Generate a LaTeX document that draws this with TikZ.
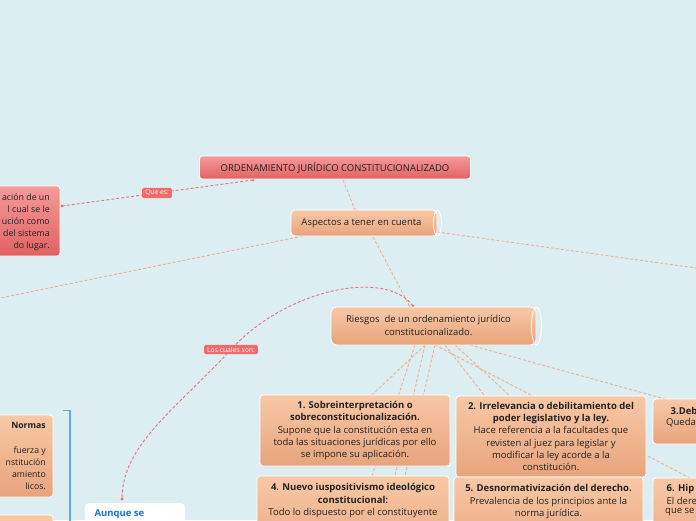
\documentclass[tikz,border=0pt]{standalone}
\usepackage{fontspec}
\setmainfont{Open Sans}
\definecolor{bg}{HTML}{DCEEF2}
\definecolor{redT}{HTML}{F59A9A}
\definecolor{redB}{HTML}{E06262}
\definecolor{orT}{HTML}{F9C8A6}
\definecolor{orB}{HTML}{E7A47C}
\definecolor{orLine}{HTML}{F2B090}
\definecolor{redLine}{HTML}{E87676}
\definecolor{lblRed}{HTML}{F26A6A}
\definecolor{blueBr}{HTML}{5AA9EE}
\definecolor{blueTx}{HTML}{1C6FD6}
\definecolor{txt}{HTML}{222222}
\tikzset{
  redbox/.style={rectangle, rounded corners=3pt, draw=white, line width=0.8pt, top color=redT, bottom color=redB, inner sep=0pt},
  orbox/.style={rectangle, rounded corners=3pt, draw=white, line width=0.8pt, top color=orT, bottom color=orB, inner sep=0pt},
  lbl/.style={rectangle, rounded corners=1.5pt, fill=lblRed, text=white, font=\fontsize{6.8}{7}\selectfont, inner xsep=3pt, inner ysep=2pt},
  oline/.style={draw=orLine, dash pattern=on 3pt off 2pt, line width=0.9pt},
  rline/.style={draw=redLine, dash pattern=on 3pt off 2pt, line width=0.9pt},
  btxt/.style={font=\fontsize{9.5}{12.3}\selectfont, text=txt, align=center},
  frag/.style={font=\fontsize{9.5}{12}\selectfont, text=txt, anchor=west, inner xsep=0pt, inner ysep=1pt},
}
\begin{document}
\begin{tikzpicture}[x=1pt,y=-1pt]
\useasboundingbox (0,0) rectangle (696,520);
\clip (0,0) rectangle (696,520);
\fill[bg] (0,0) rectangle (696,520);

\coordinate (tpos) at (335,167.5);
\coordinate (apos) at (364,223);
\coordinate (rpos) at (433.5,326);

% connectors (behind)
\coordinate (asL) at (303,236);
\coordinate (leftEnd) at (0,298);
\coordinate (asR) at (437,232);
\coordinate (rightEnd) at (696,268);
\draw[oline] (asL) -- (leftEnd);
\draw[oline] (asR) -- (rightEnd);

\coordinate (tB1) at (343,180);
\coordinate (aT) at (355,210);
\draw[oline] (tB1) -- (aT);
\fill[orLine] (aT) circle (1.6);
\coordinate (aB) at (373,237);
\coordinate (rT) at (410,307);
\draw[oline] (aB) -- (rT);
\fill[orLine] (rT) circle (1.6);

% fan to risk boxes
\coordinate (f1) at (415,345);
\coordinate (f2) at (425,345);
\coordinate (f3) at (435,345);
\coordinate (f4) at (445,345);
\coordinate (f5) at (455,345);
\coordinate (f6) at (470,345);
\coordinate (e1) at (372,395);
\coordinate (e2) at (510,396);
\coordinate (e3) at (665,399);
\coordinate (e4) at (372,476);
\coordinate (e5) at (548,477);
\coordinate (e6) at (690,478);
\coordinate (e7) at (405,476);
\coordinate (e8) at (395,476);
\draw[oline] (f2) -- (e1);
\draw[oline] (f5) -- (e2);
\draw[oline] (f6) -- (e3);
\draw[oline] (f1) -- (e4);
\draw[oline] (f4) -- (e5);
\draw[oline] (f3) -- (e6);
\draw[oline] (f3) -- (e7);
\draw[oline] (f2) -- (e8);

% red connectors
\coordinate (tB2) at (253,180);
\coordinate (lbR) at (62,206);
\draw[rline] (tB2) -- (lbR);
\fill[redLine] (tB2) circle (1.6);
\fill[redLine] (lbR) circle (1.6);
\node[lbl] (queEs) at (157,193) {Que es:};

\coordinate (rTL) at (413,306);
\coordinate (aunT) at (122,499);
\coordinate (cualesC) at (231,349.5);
\draw[rline] (rTL) .. controls (385,268) and (285,290) .. (cualesC)
                   .. controls (175,410) and (122,445) .. (aunT);
\fill[redLine] (rTL) circle (1.6);
\fill[redLine] (aunT) circle (1.6);
\node[lbl] (cuales) at (cualesC) {Los cuales son:};

% title
\node[redbox, minimum width=271pt, minimum height=23pt, font=\fontsize{9.5}{10}\selectfont, text=txt] (title) at (tpos) {ORDENAMIENTO JURÍDICO CONSTITUCIONALIZADO};

% left red box (clipped)
\node[redbox, minimum width=140pt, minimum height=70pt] (defbox) at (-10,221) {};
\node[font=\fontsize{8.8}{12}\selectfont, text=txt, align=right, anchor=east, inner xsep=0pt] (deftxt) at (50,222) {ación de un\\l cual se le\\ución como\\del sistema\\do lugar.};

% aspectos cylinder
\node[orbox, rounded corners=4pt, minimum width=146pt, minimum height=26pt] (asp) at (apos) {};
\draw[white, line width=0.8pt] (asp.east) ellipse (4pt and 13pt);
\node[font=\fontsize{9.5}{10}\selectfont, text=txt] (asptxt) at (361.5,223) {Aspectos a tener en cuenta};

% riesgos cylinder
\node[orbox, rounded corners=6pt, minimum width=205pt, minimum height=38pt] (ries) at (rpos) {};
\draw[white, line width=0.8pt] (ries.east) ellipse (5pt and 19pt);
\node[btxt, font=\fontsize{9.5}{13}\selectfont] (riestxt) at (428.5,325.5) {Riesgos \ de un ordenamiento jurídico\\constitucionalizado.};

% risk boxes
\node[orbox, minimum width=190pt, minimum height=71pt] (b1) at (355,430.5) {};
\node[btxt] (b1t) at (b1) {\textbf{1. Sobreinterpretación o}\\\textbf{sobreconstitucionalización.}\\Supone que la constitución esta en\\toda las situaciones jurídicas por ello\\se impone su aplicación.};

\node[orbox, minimum width=190pt, minimum height=81pt] (b2) at (551,436.5) {};
\node[btxt] (b2t) at (b2) {\textbf{2. Irrelevancia o debilitamiento del}\\\textbf{poder legislativo y la ley.}\\Hace referencia a la facultades que\\revisten al juez para legislar y\\modificar la ley acorde a la\\constitución.};

\node[orbox, minimum width=100pt, minimum height=45pt] (b3) at (703,421.5) {};
\node[frag, font=\bfseries\fontsize{9.5}{12}\selectfont] (b3a) at (670.5,411) {3.Deb};
\node[frag] (b3b) at (666,422.5) {Queda};

\node[orbox, minimum width=192pt, minimum height=90pt] (b4) at (353,521) {};
\node[btxt, anchor=north] (b4t) at (353,480) {\textbf{4. Nuevo iuspositivismo ideológico}\\\textbf{constitucional:}\\Todo lo dispuesto por el constituyente};

\node[orbox, minimum width=189pt, minimum height=80pt] (b5) at (548.5,517) {};
\node[btxt, anchor=north] (b5t) at (548.5,481) {\textbf{5. Desnormativización del derecho.}\\Prevalencia de los principios ante la\\norma jurídica.};

\node[orbox, minimum width=100pt, minimum height=90pt] (b6) at (703,523) {};
\node[frag, font=\bfseries\fontsize{9.5}{12}\selectfont] (b6a) at (666.5,489) {6. Hip};
\node[frag] (b6b) at (666.5,500.5) {El dere};
\node[frag] (b6c) at (665,512) {que se};

% left orange boxes
\node[orbox, minimum width=150pt, minimum height=82pt] (lb1) at (-22,456) {};
\node[btxt, font=\fontsize{8.7}{12.3}\selectfont, align=right, anchor=north east, inner xsep=0pt] (lb1t) at (46,419) {\textbf{Normas}\\[12pt]fuerza y\\nstitución\\amiento\\licos.};
\node[orbox, minimum width=150pt, minimum height=60pt] (lb2) at (-22,545) {};

% blue bracket
\coordinate (brA) at (63,410.5);
\coordinate (brB) at (70,410.5);
\coordinate (brC) at (70,525);
\draw[blueBr, line width=1.2pt] (brA) -- (brB) -- (brC);

% aunque box
\node[rectangle, rounded corners=4pt, fill=white, minimum width=100pt, minimum height=60pt] (aun) at (135,533) {};
\node[font=\bfseries\fontsize{9.5}{10}\selectfont, text=blueTx, anchor=west] (auntxt) at (91,514) {Aunque se};
\end{tikzpicture}
\end{document}
